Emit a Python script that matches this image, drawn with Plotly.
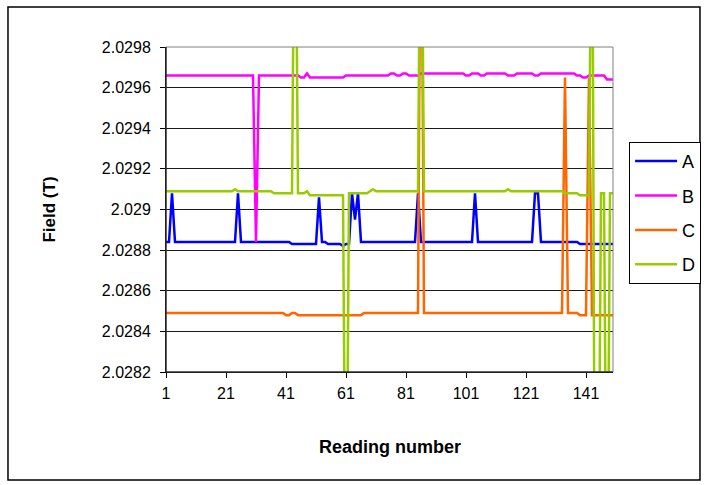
import plotly.graph_objects as go

readings = list(range(1, 151))

field_a = [
    2.02884, 2.02884, 2.02908, 2.02884, 2.02884, 2.02884, 2.02884, 2.02884, 2.02884, 2.02884,
    2.02884, 2.02884, 2.02884, 2.02884, 2.02884, 2.02884, 2.02884, 2.02884, 2.02884, 2.02884,
    2.02884, 2.02884, 2.02884, 2.02884, 2.02908, 2.02884, 2.02884, 2.02884, 2.02884, 2.02884,
    2.02884, 2.02884, 2.02884, 2.02884, 2.02884, 2.02884, 2.02884, 2.02884, 2.02884, 2.02884,
    2.02884, 2.02884, 2.02883, 2.02883, 2.02883, 2.02883, 2.02883, 2.02883, 2.02883, 2.02883,
    2.02883, 2.02906, 2.02884, 2.02884, 2.02883, 2.02883, 2.02883, 2.02883, 2.02883, 2.02882,
    2.02883, 2.02883, 2.02908, 2.02895, 2.02908, 2.02884, 2.02884, 2.02884, 2.02884, 2.02884,
    2.02884, 2.02884, 2.02884, 2.02884, 2.02884, 2.02884, 2.02884, 2.02884, 2.02884, 2.02884,
    2.02884, 2.02884, 2.02884, 2.02884, 2.02908, 2.02884, 2.02884, 2.02884, 2.02884, 2.02884,
    2.02884, 2.02884, 2.02884, 2.02884, 2.02884, 2.02884, 2.02884, 2.02884, 2.02884, 2.02884,
    2.02884, 2.02884, 2.02884, 2.02908, 2.02884, 2.02884, 2.02884, 2.02884, 2.02884, 2.02884,
    2.02884, 2.02884, 2.02884, 2.02884, 2.02884, 2.02884, 2.02884, 2.02884, 2.02884, 2.02884,
    2.02884, 2.02884, 2.02884, 2.02908, 2.02908, 2.02884, 2.02884, 2.02884, 2.02884, 2.02884,
    2.02884, 2.02884, 2.02884, 2.02884, 2.02884, 2.02884, 2.02884, 2.02884, 2.02883, 2.02883,
    2.02883, 2.02883, 2.02883, 2.02883, 2.02883, 2.02883, 2.02883, 2.02883, 2.02883, 2.02883,
]

field_b = [
    2.02966, 2.02966, 2.02966, 2.02966, 2.02966, 2.02966, 2.02966, 2.02966, 2.02966, 2.02966,
    2.02966, 2.02966, 2.02966, 2.02966, 2.02966, 2.02966, 2.02966, 2.02966, 2.02966, 2.02966,
    2.02966, 2.02966, 2.02966, 2.02966, 2.02966, 2.02966, 2.02966, 2.02966, 2.02966, 2.02966,
    2.02884, 2.02966, 2.02966, 2.02966, 2.02966, 2.02966, 2.02966, 2.02966, 2.02966, 2.02966,
    2.02966, 2.02966, 2.02966, 2.02966, 2.02966, 2.02965, 2.02965, 2.02967, 2.02965, 2.02965,
    2.02965, 2.02965, 2.02965, 2.02965, 2.02965, 2.02965, 2.02965, 2.02965, 2.02965, 2.02965,
    2.02966, 2.02966, 2.02966, 2.02966, 2.02966, 2.02966, 2.02966, 2.02966, 2.02966, 2.02966,
    2.02966, 2.02966, 2.02966, 2.02966, 2.02966, 2.02967, 2.02967, 2.02966, 2.02966, 2.02967,
    2.02967, 2.02966, 2.02966, 2.02966, 2.02966, 2.02967, 2.02967, 2.02967, 2.02967, 2.02967,
    2.02967, 2.02967, 2.02967, 2.02967, 2.02967, 2.02967, 2.02967, 2.02967, 2.02967, 2.02967,
    2.02966, 2.02966, 2.02967, 2.02967, 2.02967, 2.02966, 2.02966, 2.02967, 2.02967, 2.02967,
    2.02967, 2.02967, 2.02967, 2.02967, 2.02966, 2.02966, 2.02966, 2.02967, 2.02967, 2.02967,
    2.02967, 2.02967, 2.02967, 2.02966, 2.02966, 2.02967, 2.02967, 2.02967, 2.02967, 2.02967,
    2.02967, 2.02967, 2.02967, 2.02967, 2.02967, 2.02967, 2.02967, 2.02966, 2.02966, 2.02965,
    2.02965, 2.02966, 2.02966, 2.02966, 2.02966, 2.02966, 2.02966, 2.02964, 2.02964, 2.02964,
]

field_c = [
    2.02849, 2.02849, 2.02849, 2.02849, 2.02849, 2.02849, 2.02849, 2.02849, 2.02849, 2.02849,
    2.02849, 2.02849, 2.02849, 2.02849, 2.02849, 2.02849, 2.02849, 2.02849, 2.02849, 2.02849,
    2.02849, 2.02849, 2.02849, 2.02849, 2.02849, 2.02849, 2.02849, 2.02849, 2.02849, 2.02849,
    2.02849, 2.02849, 2.02849, 2.02849, 2.02849, 2.02849, 2.02849, 2.02849, 2.02849, 2.02849,
    2.02848, 2.02848, 2.02849, 2.02849, 2.02848, 2.02848, 2.02848, 2.02848, 2.02848, 2.02848,
    2.02848, 2.02848, 2.02848, 2.02848, 2.02848, 2.02848, 2.02848, 2.02848, 2.02848, 2.02848,
    2.02848, 2.02848, 2.02848, 2.02848, 2.02848, 2.02848, 2.02849, 2.02849, 2.02849, 2.02849,
    2.02849, 2.02849, 2.02849, 2.02849, 2.02849, 2.02849, 2.02849, 2.02849, 2.02849, 2.02849,
    2.02849, 2.02849, 2.02849, 2.02849, 2.02849, 2.03100, 2.02849, 2.02849, 2.02849, 2.02849,
    2.02849, 2.02849, 2.02849, 2.02849, 2.02849, 2.02849, 2.02849, 2.02849, 2.02849, 2.02849,
    2.02849, 2.02849, 2.02849, 2.02849, 2.02849, 2.02849, 2.02849, 2.02849, 2.02849, 2.02849,
    2.02849, 2.02849, 2.02849, 2.02849, 2.02849, 2.02849, 2.02849, 2.02849, 2.02849, 2.02849,
    2.02849, 2.02849, 2.02849, 2.02849, 2.02849, 2.02849, 2.02849, 2.02849, 2.02849, 2.02849,
    2.02849, 2.02849, 2.02849, 2.02965, 2.02849, 2.02849, 2.02849, 2.02849, 2.02848, 2.02848,
    2.02848, 2.02965, 2.02848, 2.02848, 2.02848, 2.02848, 2.02848, 2.02848, 2.02848, 2.02848,
]

field_d = [
    2.02909, 2.02909, 2.02909, 2.02909, 2.02909, 2.02909, 2.02909, 2.02909, 2.02909, 2.02909,
    2.02909, 2.02909, 2.02909, 2.02909, 2.02909, 2.02909, 2.02909, 2.02909, 2.02909, 2.02909,
    2.02909, 2.02909, 2.02909, 2.02910, 2.02909, 2.02909, 2.02909, 2.02909, 2.02909, 2.02909,
    2.02909, 2.02909, 2.02909, 2.02909, 2.02909, 2.02909, 2.02908, 2.02908, 2.02908, 2.02908,
    2.02908, 2.02908, 2.02908, 2.03100, 2.02908, 2.02908, 2.02908, 2.02909, 2.02907, 2.02907,
    2.02907, 2.02907, 2.02907, 2.02907, 2.02907, 2.02907, 2.02907, 2.02907, 2.02907, 2.02907,
    2.02700, 2.02908, 2.02908, 2.02908, 2.02908, 2.02908, 2.02908, 2.02908, 2.02909, 2.02910,
    2.02909, 2.02909, 2.02909, 2.02909, 2.02909, 2.02909, 2.02909, 2.02909, 2.02909, 2.02909,
    2.02909, 2.02909, 2.02909, 2.02909, 2.02909, 2.03100, 2.02909, 2.02909, 2.02909, 2.02909,
    2.02909, 2.02909, 2.02909, 2.02909, 2.02909, 2.02909, 2.02909, 2.02909, 2.02909, 2.02909,
    2.02909, 2.02909, 2.02909, 2.02909, 2.02909, 2.02909, 2.02909, 2.02909, 2.02909, 2.02909,
    2.02909, 2.02909, 2.02909, 2.02909, 2.02910, 2.02909, 2.02909, 2.02909, 2.02909, 2.02909,
    2.02909, 2.02909, 2.02909, 2.02909, 2.02909, 2.02909, 2.02909, 2.02909, 2.02909, 2.02909,
    2.02909, 2.02909, 2.02909, 2.02908, 2.02908, 2.02908, 2.02908, 2.02908, 2.02907, 2.02907,
    2.02907, 2.02907, 2.03100, 2.02700, 2.02700, 2.02908, 2.02908, 2.02700, 2.02908, 2.02908,
]

series_names = ["A", "B", "C", "D"]
series_colors = ["#0000FF", "#FF00FF", "#FF6600", "#99CC00"]

x_tick_vals = [1, 21, 41, 61, 81, 101, 121, 141]
y_tick_vals = [2.0282, 2.0284, 2.0286, 2.0288, 2.0290, 2.0292, 2.0294, 2.0296, 2.0298]
y_tick_text = ["2.0282", "2.0284", "2.0286", "2.0288", "2.029", "2.0292", "2.0294", "2.0296", "2.0298"]

FONT = "Arial, 'Liberation Sans', sans-serif"

fig = go.Figure()
for name, color, vals in zip(series_names, series_colors, [field_a, field_b, field_c, field_d]):
    fig.add_trace(go.Scatter(
        x=readings, y=vals, mode="lines", name=name, legendgroup=name,
        line=dict(color=color, width=2.5),
    ))

fig.update_layout(
    width=707, height=485,
    margin=dict(l=166, r=94, t=47, b=113, autoexpand=False),
    paper_bgcolor="white", plot_bgcolor="white",
    font=dict(family=FONT, size=16, color="black"),
    showlegend=True,
    legend=dict(
        x=1.036, xanchor="left", y=0.708, yanchor="top",
        bordercolor="black", borderwidth=1, bgcolor="white",
        font=dict(family=FONT, size=18, color="black"),
        tracegroupgap=8, itemwidth=42,
    ),
    xaxis=dict(
        range=[1, 150], tickmode="array", tickvals=x_tick_vals,
        ticks="outside", ticklen=5, tickcolor="black", tickwidth=1,
        showline=True, linecolor="black", linewidth=1,
        showgrid=False, zeroline=False, automargin=False,
        tickfont=dict(family=FONT, size=16, color="black"),
        ticklabelstandoff=2,
    ),
    yaxis=dict(
        range=[2.0282, 2.0298], tickmode="array", tickvals=y_tick_vals, ticktext=y_tick_text,
        ticks="outside", ticklen=5, tickcolor="black", tickwidth=1,
        showline=True, linecolor="black", linewidth=1,
        showgrid=True, gridcolor="#1a1a1a", gridwidth=1, zeroline=False, automargin=False,
        tickfont=dict(family=FONT, size=16, color="black"),
        ticklabelstandoff=6,
    ),
    shapes=[
        dict(type="rect", xref="x domain", yref="y domain", x0=0, x1=1, y0=0, y1=1,
             line=dict(color="#808080", width=1), layer="above"),
        dict(type="line", xref="x domain", yref="y domain", x0=0, x1=0, y0=0, y1=1,
             line=dict(color="black", width=1), layer="above"),
        dict(type="line", xref="x domain", yref="y domain", x0=0, x1=1, y0=0, y1=0,
             line=dict(color="black", width=1), layer="above"),
        dict(type="rect", xref="paper", yref="paper", x0=-0.3535, x1=1.1946, y0=-0.3323, y1=1.1231,
             line=dict(color="black", width=1.5), layer="below"),
    ],
    annotations=[
        dict(text="<b>Field (T)</b>", xref="paper", yref="paper", x=-0.2617, y=0.5,
             xanchor="center", yanchor="middle",
             textangle=-90, showarrow=False, font=dict(family=FONT, size=17, color="black")),
        dict(text="<b>Reading number</b>", xref="paper", yref="paper", x=0.5, y=-0.2308,
             xanchor="center", yanchor="middle",
             showarrow=False, font=dict(family=FONT, size=18, color="black")),
    ],
)

fig.write_html("out.html", config={"displayModeBar": False},
               post_script="document.body.style.margin='0px';")
